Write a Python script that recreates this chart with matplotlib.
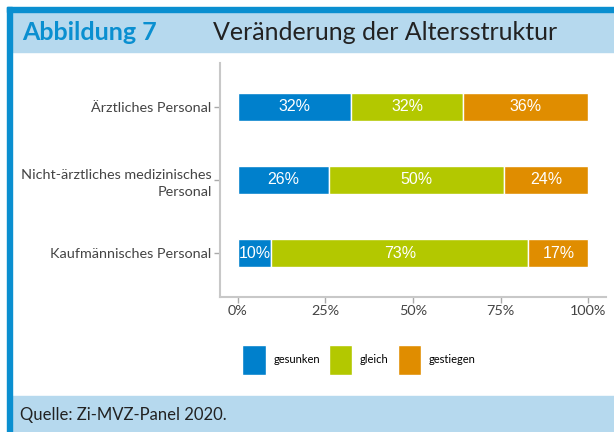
import matplotlib
matplotlib.use('Agg')
import matplotlib.pyplot as plt
from matplotlib.patches import Rectangle
import numpy as np

# Data
categories = ['Ärztliches Personal', 'Nicht-ärztliches medizinisches\nPersonal', 'Kaufmännisches Personal']
series_names = ['gesunken', 'gleich', 'gestiegen']
gesunken = [32.3, 26.2, 9.6]
gleich = [32.0, 49.7, 73.3]
gestiegen = [35.7, 24.1, 17.1]
x_ticks = [0, 25, 50, 75, 100]
x_tick_labels = ['0%', '25%', '50%', '75%', '100%']

colors = ['#0080cc', '#b3c800', '#e08d00']
dark_blue = '#0a8fd0'
light_blue = '#b6d9ee'

plt.rcParams['font.family'] = ['Lato', 'DejaVu Sans']

fig = plt.figure(figsize=(6.14, 4.32), dpi=100)
W, H = 614, 432

def fx(px):
    return px / W

def fy(py):
    return 1 - py / H

# Frame: header band, bottom band, blue lines
fig.patches.append(Rectangle((fx(12), fy(52)), fx(W - 12), (52 - 12) / H,
                             transform=fig.transFigure, color=light_blue, zorder=0))
fig.patches.append(Rectangle((fx(12), 0), fx(W - 12), (H - 396) / H,
                             transform=fig.transFigure, color=light_blue, zorder=0))
fig.patches.append(Rectangle((fx(7), fy(12)), fx(W - 7), 5 / H,
                             transform=fig.transFigure, color=dark_blue, zorder=0))
fig.patches.append(Rectangle((fx(7), 0), fx(5), fy(7),
                             transform=fig.transFigure, color=dark_blue, zorder=0))

fig.text(fx(22), fy(32), 'Abbildung 7', color=dark_blue, fontsize=18,
         fontweight='bold', va='center', ha='left')
fig.text(fx(213), fy(32), 'Veränderung der Altersstruktur', color='#222222',
         fontsize=18, va='center', ha='left')
fig.text(fx(20), fy(415), 'Quelle: Zi-MVZ-Panel 2020.', color='#222222',
         fontsize=12, va='center', ha='left')

# Chart
ax = fig.add_axes([fx(220), fy(297), fx(606 - 220), (297 - 63) / H])
y = np.arange(len(categories))[::-1]
left = np.zeros(len(categories))
handles = []
for name, vals, col in zip(series_names, [gesunken, gleich, gestiegen], colors):
    vals = np.array(vals)
    bars = ax.barh(y, vals, left=left, height=0.39, color=col,
                   edgecolor='white', linewidth=1, label=name)
    handles.append(bars)
    for yy, l, v in zip(y, left, vals):
        ax.text(l + v / 2, yy, f'{v:.0f}%', ha='center', va='center',
                color='white', fontsize=11.5, family='Liberation Sans')
    left += vals

ax.set_xlim(-5, 105)
ax.set_ylim(-0.6, 2.6)
ax.set_yticks(y)
ax.set_yticklabels(categories, fontsize=10.4, color='#444444', linespacing=1.45)
ax.set_xticks(x_ticks)
ax.set_xticklabels(x_tick_labels, fontsize=10.4, color='#444444')
for s in ['top', 'right']:
    ax.spines[s].set_visible(False)
for s in ['left', 'bottom']:
    ax.spines[s].set_color('#c8c8c8')
    ax.spines[s].set_linewidth(1.5)
ax.tick_params(colors='#aaaaaa', length=4, width=1, pad=2)
for lbl in ax.get_xticklabels() + ax.get_yticklabels():
    lbl.set_color('#444444')
for lbl in ax.get_yticklabels():
    lbl.set_multialignment('right')

fig.legend(handles=handles, labels=series_names, loc='center',
           bbox_to_anchor=(fx(359), fy(360)), ncol=3, frameon=False,
           fontsize=8, handlelength=2.1, handleheight=3.8,
           handletextpad=0.7, columnspacing=0.8)

fig.savefig('out.png', dpi=100)
